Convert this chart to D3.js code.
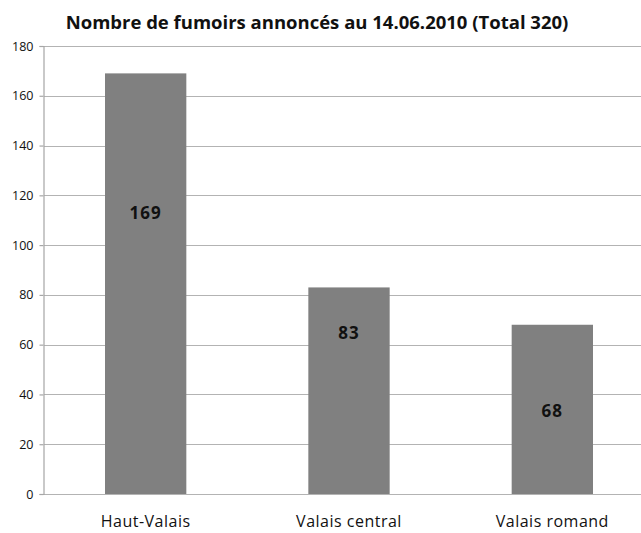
<!DOCTYPE html>
<html>
<head>
<meta charset="utf-8">
<script src="https://cdn.jsdelivr.net/npm/d3@7"></script>
<style>
  body { margin: 0; background: #fff; overflow: hidden; }
  text { font-family: "Open Sans", sans-serif; }
</style>
</head>
<body>
<script>
var regions = ["Haut-Valais", "Valais central", "Valais romand"];
var counts = [169, 83, 68];
// where Excel put the data labels, in value units
var labelAt = [113, 64.7, 33.3];
var yTicks = [0, 20, 40, 60, 80, 100, 120, 140, 160, 180];

var w = 641, h = 533;
var margin = { top: 46, left: 44, bottom: 39 };

var svg = d3.select("body").append("svg")
    .attr("width", w)
    .attr("height", h);

var xScale = d3.scaleBand()
    .domain(regions)
    .range([margin.left, 654])
    .paddingInner(0.6)
    .paddingOuter(0.3);

var yScale = d3.scaleLinear()
    .domain([0, 180])
    .range([h - margin.bottom, margin.top]);

// gridlines
svg.append("g")
    .selectAll("line")
    .data(yTicks)
    .enter()
    .append("line")
    .attr("x1", margin.left)
    .attr("x2", w)
    .attr("y1", function(d) { return Math.round(yScale(d)) + 0.5; })
    .attr("y2", function(d) { return Math.round(yScale(d)) + 0.5; })
    .attr("stroke", "#b3b3b3")
    .attr("stroke-width", 1.2);

// y axis
var yAxis = svg.append("g")
    .attr("transform", "translate(" + (margin.left - 0.5) + ",0)")
    .call(d3.axisLeft(yScale).tickValues(yTicks).tickSize(4).tickPadding(6));
yAxis.select(".domain").attr("stroke", "#a6a6a6").attr("stroke-width", 1.2);
yAxis.selectAll(".tick line").attr("stroke", "#a6a6a6").attr("stroke-width", 1.2);
yAxis.selectAll(".tick text")
    .attr("fill", "#111")
    .style("font-size", "12.5px")
    .style("font-family", "'Open Sans', sans-serif");

// bars
svg.selectAll("rect.bar")
    .data(counts)
    .enter()
    .append("rect")
    .attr("class", "bar")
    .attr("x", function(d, i) { return xScale(regions[i]); })
    .attr("y", function(d) { return yScale(d); })
    .attr("width", xScale.bandwidth())
    .attr("height", function(d) { return yScale(0) - yScale(d); })
    .attr("fill", "#808080");

// value labels
svg.selectAll("text.val")
    .data(counts)
    .enter()
    .append("text")
    .attr("class", "val")
    .attr("x", function(d, i) { return xScale(regions[i]) + xScale.bandwidth() / 2; })
    .attr("y", function(d, i) { return yScale(labelAt[i]); })
    .attr("dy", "0.35em")
    .attr("text-anchor", "middle")
    .style("font-size", "17px")
    .style("font-weight", "bold")
    .style("letter-spacing", "1px")
    .attr("fill", "#111")
    .text(function(d) { return d; });

// category labels
svg.selectAll("text.cat")
    .data(regions)
    .enter()
    .append("text")
    .attr("class", "cat")
    .attr("x", function(d) { return xScale(d) + xScale.bandwidth() / 2; })
    .attr("y", 527)
    .attr("text-anchor", "middle")
    .style("font-size", "16px")
    .style("letter-spacing", "0.5px")
    .attr("fill", "#111")
    .text(function(d) { return d; });

// title
svg.append("text")
    .attr("x", 317)
    .attr("y", 29)
    .attr("text-anchor", "middle")
    .style("font-size", "18.5px")
    .style("font-weight", "bold")
    .attr("fill", "#111")
    .text("Nombre de fumoirs annoncés au 14.06.2010 (Total 320)");
</script>
</body>
</html>
